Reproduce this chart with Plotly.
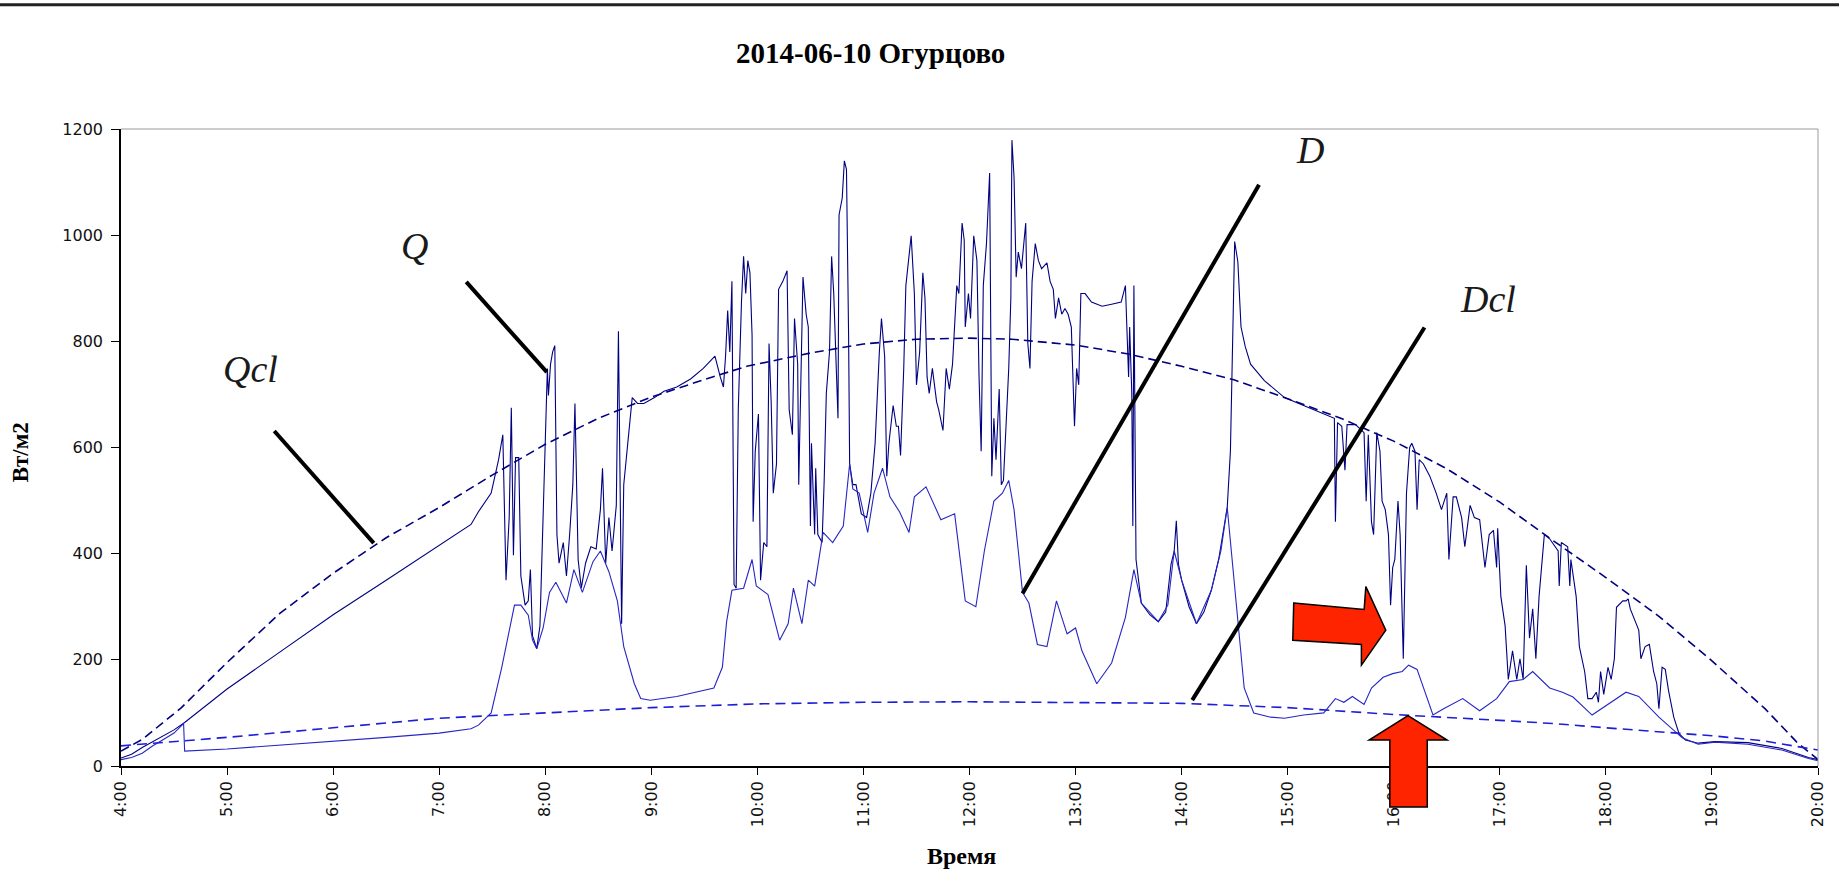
import plotly.graph_objects as go

# ---- time axis labels ----
hour_ticks = list(range(4, 21))
hour_labels = [f"{h}:00" for h in hour_ticks]
value_ticks = [0, 200, 400, 600, 800, 1000, 1200]

# ---- Q: measured global radiation, W/m2 ----
q_time = [4.00, 4.10, 4.20, 4.34, 4.50, 4.60, 5.00, 5.50, 6.00, 6.50, 7.00, 7.30, 7.37, 7.49, 7.56, 7.60,
          7.63, 7.66, 7.68, 7.70, 7.72, 7.75, 7.77, 7.81, 7.84, 7.86, 7.88, 7.92, 7.95, 7.98, 8.00, 8.02,
          8.03, 8.05, 8.07, 8.09, 8.11, 8.13, 8.17, 8.20, 8.23, 8.26, 8.28, 8.31, 8.34, 8.38, 8.43, 8.48,
          8.52, 8.54, 8.57, 8.60, 8.63, 8.67, 8.69, 8.71, 8.72, 8.74, 8.77, 8.80, 8.82, 8.87, 8.93, 9.03,
          9.12, 9.24, 9.37, 9.49, 9.60, 9.65, 9.68, 9.70, 9.72, 9.74, 9.76, 9.78, 9.80, 9.82, 9.85, 9.87,
          9.89, 9.91, 9.93, 9.95, 9.96, 9.98, 10.01, 10.03, 10.06, 10.09, 10.11, 10.13, 10.15, 10.18, 10.20,
          10.24, 10.28, 10.30, 10.33, 10.35, 10.38, 10.39, 10.42, 10.43, 10.46, 10.48, 10.50, 10.51, 10.54,
          10.55, 10.57, 10.61, 10.63, 10.65, 10.68, 10.70, 10.72, 10.74, 10.76, 10.77, 10.80, 10.82, 10.84,
          10.86, 10.87, 10.90, 10.93, 10.98, 11.03, 11.07, 11.11, 11.15, 11.17, 11.20, 11.22, 11.24, 11.28,
          11.31, 11.33, 11.35, 11.38, 11.40, 11.43, 11.45, 11.48, 11.50, 11.53, 11.56, 11.58, 11.60, 11.62,
          11.65, 11.69, 11.71, 11.75, 11.78, 11.81, 11.84, 11.88, 11.90, 11.93, 11.95, 11.96, 11.99, 12.01,
          12.04, 12.07, 12.09, 12.11, 12.13, 12.16, 12.18, 12.19, 12.21, 12.23, 12.25, 12.28, 12.30, 12.32,
          12.37, 12.39, 12.40, 12.42, 12.44, 12.46, 12.49, 12.51, 12.53, 12.55, 12.57, 12.59, 12.62, 12.65,
          12.68, 12.73, 12.76, 12.79, 12.81, 12.84, 12.87, 12.90, 12.93, 12.96, 12.98, 12.99, 13.01, 13.03,
          13.05, 13.09, 13.15, 13.25, 13.34, 13.43, 13.47, 13.50, 13.51, 13.53, 13.54, 13.55, 13.57, 13.58,
          13.62, 13.70, 13.78, 13.85, 13.90, 13.93, 13.95, 13.97, 14.00, 14.07, 14.14, 14.21, 14.28, 14.35,
          14.40, 14.43, 14.46, 14.48, 14.50, 14.53, 14.56, 14.60, 14.65, 14.78, 14.93, 14.97, 15.15, 15.40,
          15.44, 15.45, 15.47, 15.51, 15.54, 15.56, 15.64, 15.72, 15.74, 15.76, 15.79, 15.81, 15.84, 15.87,
          15.89, 15.92, 15.95, 15.97, 15.99, 16.01, 16.04, 16.06, 16.09, 16.12, 16.15, 16.17, 16.20, 16.22,
          16.24, 16.28, 16.34, 16.40, 16.45, 16.50, 16.52, 16.56, 16.59, 16.64, 16.67, 16.72, 16.76, 16.81,
          16.86, 16.90, 16.94, 16.97, 16.98, 17.01, 17.05, 17.08, 17.12, 17.16, 17.19, 17.22, 17.25, 17.28,
          17.31, 17.34, 17.37, 17.42, 17.47, 17.55, 17.56, 17.58, 17.64, 17.66, 17.67, 17.72, 17.75, 17.80,
          17.83, 17.87, 17.91, 17.93, 17.95, 17.98, 18.02, 18.05, 18.08, 18.10, 18.12, 18.16, 18.19, 18.21,
          18.23, 18.28, 18.31, 18.33, 18.37, 18.41, 18.45, 18.48, 18.50, 18.53, 18.56, 18.59, 18.64, 18.69,
          18.75, 18.87, 19.03, 19.34, 19.66, 19.91, 20.00]
q_vals = [15, 22, 35, 51, 68, 82, 145, 215, 285, 350, 415, 455, 479, 514, 577, 624,
          350, 468, 675, 397, 581, 581, 358, 303, 311, 370, 245, 221, 264, 468, 624, 749,
          698, 757, 780, 792, 436, 382, 421, 358, 436, 530, 683, 389, 335, 382, 413, 409,
          483, 561, 382, 468, 405, 491, 819, 358, 268, 530, 593, 655, 694, 683, 683, 694,
          706, 714, 729, 749, 772, 733, 714, 772, 858, 780, 913, 342, 335, 671, 874, 960,
          890, 952, 929, 812, 460, 593, 663, 350, 421, 413, 796, 686, 514, 569, 898,
          913, 933, 671, 624, 843, 757, 530, 827, 921, 851, 827, 452, 608, 436,
          561, 436, 421, 538, 702, 780, 960, 890, 780, 655, 1038, 1070, 1140, 1124,
          812, 569, 530, 530, 475, 468, 514, 608, 780, 843, 772, 546, 608, 679,
          640, 640, 585, 749, 905, 968, 999, 890, 718, 780, 929, 882, 733, 702,
          749, 686, 671, 632, 749, 710, 757, 905, 890, 1023, 991, 827, 890, 843,
          999, 952, 733, 593, 905, 984, 1062, 1117, 546, 655, 577, 710, 530, 538,
          749, 882, 1179, 1109, 921, 968, 937, 984, 1023, 796, 749, 913, 984, 952,
          937, 948, 913, 898, 843, 882, 851, 862, 851, 827, 671, 640, 749, 718,
          890, 890, 874, 866, 870, 874, 905, 733, 827, 702, 452, 905, 389, 374,
          307, 285, 272, 290, 380, 405, 462, 380, 350, 300, 268, 290, 331, 390,
          450, 487, 593, 788, 988, 950, 827, 790, 757, 726, 702, 694, 679, 659,
          655, 460, 647, 640, 557, 643, 643, 628, 499, 624, 460, 436, 628, 593,
          499, 483, 436, 303, 374, 389, 499, 436, 202, 514, 600, 608, 593, 483,
          577, 569, 546, 514, 483, 514, 389, 507, 507, 468, 413, 491, 468, 464,
          374, 436, 444, 374, 448, 319, 264, 163, 217, 163, 202, 163, 378, 241,
          296, 202, 319, 436, 428, 405, 339, 421, 413, 339, 389, 319, 225, 178,
          127, 127, 139, 120, 178, 135, 186, 163, 202, 299, 303, 311, 311, 315,
          296, 272, 256, 202, 225, 229, 178, 155, 108, 186, 182, 143, 92, 61,
          49, 43, 46, 44, 33, 16, 12]

# ---- D: measured diffuse radiation, W/m2 ----
d_time = [4.00, 4.10, 4.20, 4.30, 4.40, 4.50, 4.59, 4.60, 5.00, 5.50, 6.00, 6.50, 7.00, 7.30, 7.37, 7.49,
          7.59, 7.66, 7.71, 7.77, 7.84, 7.88, 7.92, 7.98, 8.04, 8.10, 8.20, 8.27, 8.35, 8.45, 8.52, 8.60,
          8.68, 8.74, 8.84, 8.90, 8.99, 9.24, 9.59, 9.67, 9.71, 9.76, 9.87, 9.95, 9.99, 10.10, 10.21, 10.29,
          10.34, 10.42, 10.48, 10.54, 10.62, 10.71, 10.81, 10.87, 10.90, 10.96, 11.04, 11.10, 11.18, 11.25,
          11.34, 11.43, 11.48, 11.59, 11.73, 11.86, 11.96, 12.06, 12.14, 12.23, 12.31, 12.37, 12.42, 12.50,
          12.56, 12.64, 12.73, 12.82, 12.92, 13.00, 13.06, 13.20, 13.34, 13.47, 13.55, 13.62, 13.78, 13.87,
          13.93, 14.00, 14.14, 14.28, 14.37, 14.43, 14.50, 14.59, 14.68, 14.84, 14.97, 15.15, 15.34, 15.45,
          15.53, 15.61, 15.72, 15.79, 15.90, 15.99, 16.08, 16.14, 16.22, 16.28, 16.37, 16.47, 16.65, 16.81,
          16.97, 17.09, 17.22, 17.31, 17.47, 17.59, 17.69, 17.87, 18.19, 18.31, 18.50, 18.72, 18.87, 19.03,
          19.34, 19.66, 19.91, 20.00]
d_vals = [12, 16, 24, 38, 50, 62, 80, 28, 32, 39, 47, 54, 62, 70, 77, 100,
          186, 256, 303, 303, 284, 237, 221, 260, 327, 346, 307, 370, 327, 385, 405, 366,
          311, 225, 155, 127, 124, 131, 147, 186, 272, 331, 335, 389, 339, 323, 237, 268,
          335, 268, 350, 339, 440, 421, 452, 569, 522, 514, 440, 514, 561, 507,
          479, 440, 507, 526, 464, 475, 311, 300, 405, 499, 514, 538, 483, 327,
          307, 229, 225, 311, 249, 260, 217, 155, 194, 280, 370, 307, 272, 303,
          405, 350, 268, 331, 405, 487, 335, 147, 100, 92, 90, 96, 100, 127,
          120, 131, 116, 147, 167, 174, 178, 190, 182, 147, 96, 108, 127, 104,
          127, 159, 163, 178, 147, 139, 130, 96, 139, 131, 92, 53, 41, 45,
          41, 30, 14, 10]

# ---- Qcl: clear-sky global radiation ----
qcl_time = [4.0, 4.2, 4.57, 5.0, 5.5, 6.0, 6.5, 7.0, 7.5, 8.0, 8.5, 9.0, 9.5, 9.9, 10.5, 11.0, 11.5,
            12.0, 12.4, 13.0, 13.5, 14.0, 14.5, 15.0, 15.5, 16.0, 16.5, 17.0, 17.5, 18.0, 18.5, 19.0,
            19.5, 19.8, 20.0]
qcl_vals = [28, 50, 110, 195, 288, 363, 430, 487, 548, 606, 655, 695, 728, 753, 778, 795, 804,
            806, 804, 793, 776, 753, 727, 692, 655, 612, 560, 497, 425, 355, 282, 198,
            108, 45, 12]

# ---- Dcl: clear-sky diffuse radiation ----
dcl_time = [4.0, 4.5, 5.0, 6.0, 7.0, 8.0, 9.0, 10.0, 11.0, 12.0, 13.0, 14.0, 15.0, 16.0, 17.0, 17.5,
            18.0, 18.5, 19.0, 19.5, 20.0]
dcl_vals = [38, 46, 54, 72, 90, 100, 110, 117, 120, 121, 120, 118, 110, 97, 86, 80,
            72, 65, 57, 47, 30]

X_RANGE = (4, 20)
Y_RANGE = (0, 1200)


def to_paper(h, v):
    """Hours / W-m2 -> paper fractions of the plotting area."""
    return (h - X_RANGE[0]) / (X_RANGE[1] - X_RANGE[0]), (v - Y_RANGE[0]) / (Y_RANGE[1] - Y_RANGE[0])


def polygon_path(points):
    pts = [to_paper(h, v) for h, v in points]
    return "M " + " L ".join(f"{x:.5f},{y:.5f}" for x, y in pts) + " Z"


fig = go.Figure()
fig.add_trace(go.Scatter(x=q_time, y=q_vals, mode="lines", name="Q",
                         line=dict(color="#000080", width=1.1)))
fig.add_trace(go.Scatter(x=d_time, y=d_vals, mode="lines", name="D",
                         line=dict(color="#2626C4", width=1.1)))
fig.add_trace(go.Scatter(x=qcl_time, y=qcl_vals, mode="lines", name="Qcl",
                         line=dict(color="#000080", width=1.6, dash="9px,5px")))
fig.add_trace(go.Scatter(x=dcl_time, y=dcl_vals, mode="lines", name="Dcl",
                         line=dict(color="#1E1ED8", width=1.6, dash="10px,6px")))

shapes = []
# frame of the plotting area (light top / right edges)
shapes.append(dict(type="line", xref="paper", yref="paper", x0=0, x1=1, y0=1, y1=1,
                   line=dict(color="#9a9a9a", width=1)))
shapes.append(dict(type="line", xref="paper", yref="paper", x0=1, x1=1, y0=0, y1=1,
                   line=dict(color="#9a9a9a", width=1)))
# rule along the top of the page
shapes.append(dict(type="line", xref="paper", yref="paper", x0=-0.08, x1=1.02, y0=1.195, y1=1.195,
                   line=dict(color="#222222", width=3)))

# pointer lines from the labels to the curves
pointers = [
    ((5.445, 631), (6.383, 420)),    # Qcl
    ((7.255, 912), (8.015, 742)),    # Q
    ((12.50, 325), (14.73, 1095)),   # D
    ((14.10, 124), (16.29, 826)),    # Dcl
]
for (h0, v0), (h1, v1) in pointers:
    x0, y0 = to_paper(h0, v0)
    x1, y1 = to_paper(h1, v1)
    shapes.append(dict(type="line", xref="paper", yref="paper", x0=x0, y0=y0, x1=x1, y1=y1,
                       line=dict(color="black", width=4), layer="above"))

# red block arrows
arrow_right = [(15.057, 307), (15.721, 295), (15.737, 338), (15.925, 256),
               (15.695, 190), (15.695, 229), (15.048, 237)]
arrow_up = [(16.134, 95), (16.503, 49), (16.316, 49), (16.316, -77),
            (15.963, -77), (15.963, 49), (15.768, 49)]
for poly in (arrow_right, arrow_up):
    shapes.append(dict(type="path", xref="paper", yref="paper", path=polygon_path(poly),
                       fillcolor="#FF2400", line=dict(color="black", width=1.5), layer="above"))

label_font = dict(family="Liberation Serif", size=38, color="#1a1a1a")
center = dict(xanchor="center", yanchor="middle", showarrow=False)
annotations = [
    dict(x=6.77, y=980, xref="x", yref="y", text="<i>Q</i>", font=label_font, **center),
    dict(x=5.22, y=748, xref="x", yref="y", text="<i>Qcl</i>", font=label_font, **center),
    dict(x=15.21, y=1161, xref="x", yref="y", text="<i>D</i>", font=label_font, **center),
    dict(x=16.89, y=880, xref="x", yref="y", text="<i>Dcl</i>", font=label_font, **center),
    dict(x=0.4416, y=1.119, xref="paper", yref="paper", text="<b>2014-06-10 Огурцово</b>",
         font=dict(family="Liberation Serif", size=29, color="black"), **center),
    dict(x=-0.0587, y=0.493, xref="paper", yref="paper", text="<b>Вт/м2</b>", textangle=-90,
         font=dict(family="Liberation Serif", size=23, color="black"), **center),
    dict(x=0.495, y=-0.1413, xref="paper", yref="paper", text="<b>Время</b>",
         font=dict(family="Liberation Serif", size=24, color="black"), **center),
]

tick_font = dict(family="DejaVu Sans", size=16, color="#111111")
fig.update_layout(
    width=1839, height=894,
    margin=dict(l=121, r=13, t=129, b=128),
    paper_bgcolor="white", plot_bgcolor="white",
    showlegend=False,
    shapes=shapes,
    annotations=annotations,
    xaxis=dict(range=list(X_RANGE), tickmode="array", tickvals=hour_ticks, ticktext=hour_labels,
               tickangle=-90, ticks="outside", ticklen=7, tickcolor="black", tickwidth=1,
               showline=True, linecolor="black", linewidth=1.5, showgrid=False, zeroline=False,
               tickfont=tick_font),
    yaxis=dict(range=list(Y_RANGE), tickmode="array", tickvals=value_ticks,
               ticks="outside", ticklen=8, tickcolor="black", tickwidth=1, ticklabelstandoff=5,
               showline=True, linecolor="black", linewidth=1.5, showgrid=False, zeroline=False,
               tickfont=tick_font),
)

fig.write_html("out.html")
